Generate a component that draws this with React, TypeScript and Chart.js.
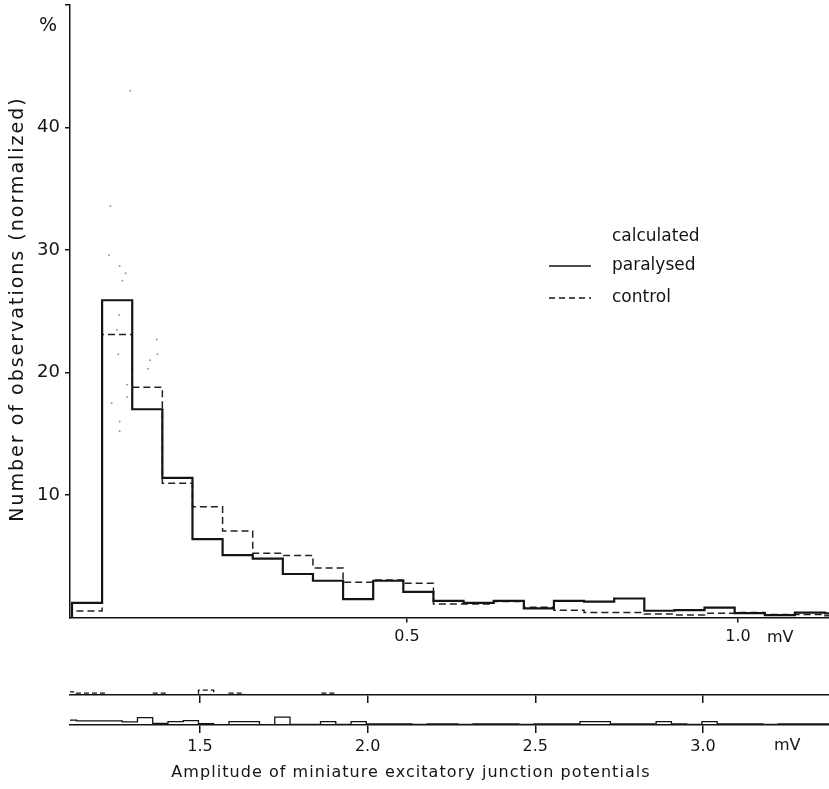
import React, { useEffect, useRef } from "react";
import { Chart, registerables } from "chart.js";

Chart.register(...registerables);

// ---------- data ----------
// histogram bins (mV): left edge of bin k = BIN_START_MV + k * BIN_WIDTH_MV
const BIN_START_MV = -0.006;
const BIN_WIDTH_MV = 0.0455;

// % of observations per bin, paralysed (solid)
const paralysedPct = [
  1.2, 25.9, 17.0, 11.4, 6.4, 5.1, 4.8, 3.55, 3.0, 1.5,
  3.0, 2.1, 1.35, 1.2, 1.35, 0.75, 1.35, 1.3, 1.55, 0.55,
  0.6, 0.8, 0.35, 0.2, 0.4, 0.33, 0.33, 0.33, 0.25, 0.6,
  0.13, 0.27, 0.35, 0.12, 0.03, 0.27, 0.27, 0.03, 0.65, 0.05,
  0.05, 0.27, 0.05, 0.27, 0.1, 0.08, 0.1, 0.05, 0.08, 0.1,
  0.05, 0.08, 0.1, 0.08, 0.05, 0.1, 0.08, 0.1, 0.27, 0.27,
  0.08, 0.1, 0.08, 0.27, 0.08, 0.05, 0.27, 0.1, 0.08, 0.1,
  0.05, 0.1, 0.08, 0.1, 0.1,
];

// % of observations per bin, control (dashed)
const controlPct = [
  0.53, 23.1, 18.8, 10.95, 9.05, 7.06, 5.24, 5.07, 4.05, 2.87,
  3.06, 2.8, 1.1, 1.1, 1.3, 0.83, 0.6, 0.4, 0.4, 0.28,
  0.2, 0.35, 0.4, 0.25, 0.25, 0.15, 0.15, 0.03, 0.02, 0.03,
  0.15, 0.03, 0.03, 0.4, 0.03, 0.15, 0.02, 0.02, 0.03, 0.02,
  0.03, 0.15, 0.02, 0.02, 0.03, 0.02, 0.02, 0.03, 0.02, 0.02,
  0.03, 0.02, 0.02, 0.03, 0.02, 0.02, 0.02, 0.03, 0.02, 0.02,
  0.03, 0.02, 0.02, 0.02, 0.03, 0.02, 0.02, 0.02, 0.03, 0.02,
  0.02, 0.02, 0.03, 0.02, 0.02,
];

// faint dots of the "calculated" curve
const calculatedMv = [0.082, 0.052, 0.05, 0.066, 0.075, 0.07, 0.065, 0.062, 0.064, 0.122, 0.123, 0.112, 0.109, 0.077, 0.077, 0.054, 0.066, 0.066];
const calculatedPct = [43.0, 33.6, 29.6, 28.7, 28.1, 27.5, 24.7, 23.5, 21.5, 22.7, 21.5, 21.0, 20.3, 19.0, 18.0, 17.5, 16.0, 15.2];

const mainTicksMv = [0.5, 1.0];
const stripTicksMv = [1.5, 2.0, 2.5, 3.0];
const yTickValues = [10, 20, 30, 40, 50];
const yTickLabels = ["10", "20", "30", "40", ""];

const Y_TITLE = "Number of observations (normalized)";
const X_TITLE = "Amplitude of miniature excitatory junction potentials";
const LEGEND_LABELS = ["calculated", "paralysed", "control"];

// ---------- style ----------
const FONT = "'DejaVu Sans', sans-serif";
const INK = "#141414";

function stepPoints(values: number[]) {
  const pts: { x: number; y: number }[] = [{ x: BIN_START_MV, y: 0 }];
  values.forEach((v, i) => pts.push({ x: BIN_START_MV + i * BIN_WIDTH_MV, y: v }));
  pts.push({ x: BIN_START_MV + values.length * BIN_WIDTH_MV, y: values[values.length - 1] });
  return pts;
}

function zeroPadding(s: any) {
  s.paddingTop = 0;
  s.paddingBottom = 0;
  s.paddingLeft = 0;
  s.paddingRight = 0;
}

const mainTextPlugin = {
  id: "mainText",
  afterDraw(chart: any) {
    const ctx = chart.ctx as CanvasRenderingContext2D;
    ctx.save();
    ctx.fillStyle = INK;
    ctx.strokeStyle = INK;
    ctx.textBaseline = "middle";
    ctx.textAlign = "center";
    ctx.font = `19px ${FONT}`;
    ctx.fillText("%", 48, 26);
    ctx.textAlign = "left";
    ctx.font = `16px ${FONT}`;
    ctx.fillText("mV", 767, 638);
    // legend
    ctx.font = `17px ${FONT}`;
    ctx.fillText(LEGEND_LABELS[0], 612, 237);
    ctx.fillText(LEGEND_LABELS[1], 612, 266);
    ctx.fillText(LEGEND_LABELS[2], 612, 298);
    ctx.lineWidth = 1.6;
    ctx.beginPath();
    ctx.moveTo(549, 266);
    ctx.lineTo(591, 266);
    ctx.stroke();
    ctx.setLineDash([6, 4]);
    ctx.lineWidth = 1.3;
    ctx.beginPath();
    ctx.moveTo(549, 298);
    ctx.lineTo(591, 298);
    ctx.stroke();
    ctx.setLineDash([]);
    // y title
    ctx.translate(18, 309);
    ctx.rotate(-Math.PI / 2);
    (ctx as any).letterSpacing = "2px";
    ctx.textAlign = "center";
    ctx.font = `19px ${FONT}`;
    ctx.fillText(Y_TITLE, 0, 0);
    ctx.restore();
  },
};

const stripTextPlugin = {
  id: "stripText",
  afterDraw(chart: any) {
    const ctx = chart.ctx as CanvasRenderingContext2D;
    ctx.save();
    ctx.fillStyle = INK;
    ctx.textBaseline = "middle";
    ctx.textAlign = "left";
    ctx.font = `16px ${FONT}`;
    ctx.fillText("mV", 774, 41);
    ctx.textAlign = "center";
    (ctx as any).letterSpacing = "1.05px";
    ctx.font = `16px ${FONT}`;
    ctx.fillText(X_TITLE, 411, 68);
    ctx.restore();
  },
};

function mainConfig(): any {
  return {
    type: "line",
    data: {
      datasets: [
        {
          label: "paralysed",
          data: stepPoints(paralysedPct),
          stepped: "before",
          borderColor: INK,
          borderWidth: 2.2,
          pointRadius: 0,
          fill: false,
        },
        {
          label: "control",
          data: stepPoints(controlPct),
          stepped: "before",
          borderColor: "#222",
          borderWidth: 1.5,
          borderDash: [7, 4],
          pointRadius: 0,
          fill: false,
        },
        {
          label: "calculated",
          data: calculatedMv.map((x, i) => ({ x, y: calculatedPct[i] })),
          showLine: false,
          pointRadius: 1,
          pointBorderWidth: 0,
          pointBackgroundColor: "#9a9a9a",
        },
      ],
    },
    options: {
      animation: false,
      responsive: false,
      layout: { autoPadding: false, padding: { top: 5, left: 0, right: 0, bottom: 0 } },
      plugins: { legend: { display: false }, tooltip: { enabled: false } },
      scales: {
        x: {
          type: "linear",
          min: -0.009,
          max: 1.1375,
          afterBuildTicks: (s: any) => {
            s.ticks = mainTicksMv.map((v) => ({ value: v }));
          },
          ticks: {
            callback: (v: any) => Number(v).toFixed(1),
            font: { family: FONT, size: 16 },
            color: INK,
            maxRotation: 0,
            autoSkip: false,
            padding: 5,
          },
          grid: { drawOnChartArea: false, drawTicks: true, tickLength: 5, color: INK, lineWidth: 1.5 },
          border: { display: true, color: INK, width: 1.5 },
          afterFit: (s: any) => {
            s.height = 32.5;
            zeroPadding(s);
          },
        },
        y: {
          type: "linear",
          min: 0,
          max: 50,
          afterBuildTicks: (s: any) => {
            s.ticks = yTickValues.map((v) => ({ value: v }));
          },
          ticks: {
            callback: (v: any) => yTickLabels[yTickValues.indexOf(Number(v))] ?? "",
            font: { family: FONT, size: 18 },
            color: INK,
            padding: 5,
          },
          grid: { drawOnChartArea: false, drawTicks: true, tickLength: 5, color: INK, lineWidth: 1.5 },
          border: { display: true, color: INK, width: 1.5 },
          afterFit: (s: any) => {
            s.width = 70;
            zeroPadding(s);
          },
        },
      },
    },
    plugins: [mainTextPlugin],
  };
}

function stripConfig(lower: boolean): any {
  const values = lower ? paralysedPct : controlPct;
  return {
    type: "line",
    data: {
      datasets: [
        {
          label: lower ? "paralysed" : "control",
          data: stepPoints(values),
          stepped: "before",
          borderColor: INK,
          borderWidth: 1.3,
          borderDash: lower ? [] : [5, 3],
          pointRadius: 0,
          fill: false,
        },
      ],
    },
    options: {
      animation: false,
      responsive: false,
      layout: { autoPadding: false, padding: { top: 0, left: 70, right: 0, bottom: 0 } },
      plugins: { legend: { display: false }, tooltip: { enabled: false } },
      scales: {
        x: {
          type: "linear",
          min: 1.1123,
          max: 3.376,
          afterBuildTicks: (s: any) => {
            s.ticks = stripTicksMv.map((v) => ({ value: v }));
          },
          ticks: {
            display: lower,
            callback: (v: any) => Number(v).toFixed(1),
            font: { family: FONT, size: 16 },
            color: INK,
            maxRotation: 0,
            autoSkip: false,
            padding: 4,
          },
          grid: { drawOnChartArea: false, drawTicks: true, tickLength: 8, color: INK, lineWidth: 1.5 },
          border: { display: true, color: INK, width: 1.5 },
          afterFit: (s: any) => {
            s.height = lower ? 65 : 16;
            zeroPadding(s);
          },
        },
        y: { type: "linear", min: 0, max: 1.633, display: false },
      },
    },
    plugins: lower ? [stripTextPlugin] : [],
  };
}

export default function App() {
  const mainRef = useRef<HTMLCanvasElement>(null);
  const upRef = useRef<HTMLCanvasElement>(null);
  const lowRef = useRef<HTMLCanvasElement>(null);

  useEffect(() => {
    const charts = [
      new Chart(mainRef.current as HTMLCanvasElement, mainConfig()),
      new Chart(upRef.current as HTMLCanvasElement, stripConfig(false)),
      new Chart(lowRef.current as HTMLCanvasElement, stripConfig(true)),
    ];
    return () => charts.forEach((c) => c.destroy());
  }, []);

  return (
    <div style={{ position: "absolute", left: 0, top: 0, width: 829, height: 789, background: "#fff" }}>
      <canvas ref={mainRef} width={829} height={650} style={{ position: "absolute", left: 0, top: 0 }} />
      <canvas ref={upRef} width={829} height={36} style={{ position: "absolute", left: 0, top: 675 }} />
      <canvas ref={lowRef} width={829} height={85} style={{ position: "absolute", left: 0, top: 705 }} />
    </div>
  );
}
